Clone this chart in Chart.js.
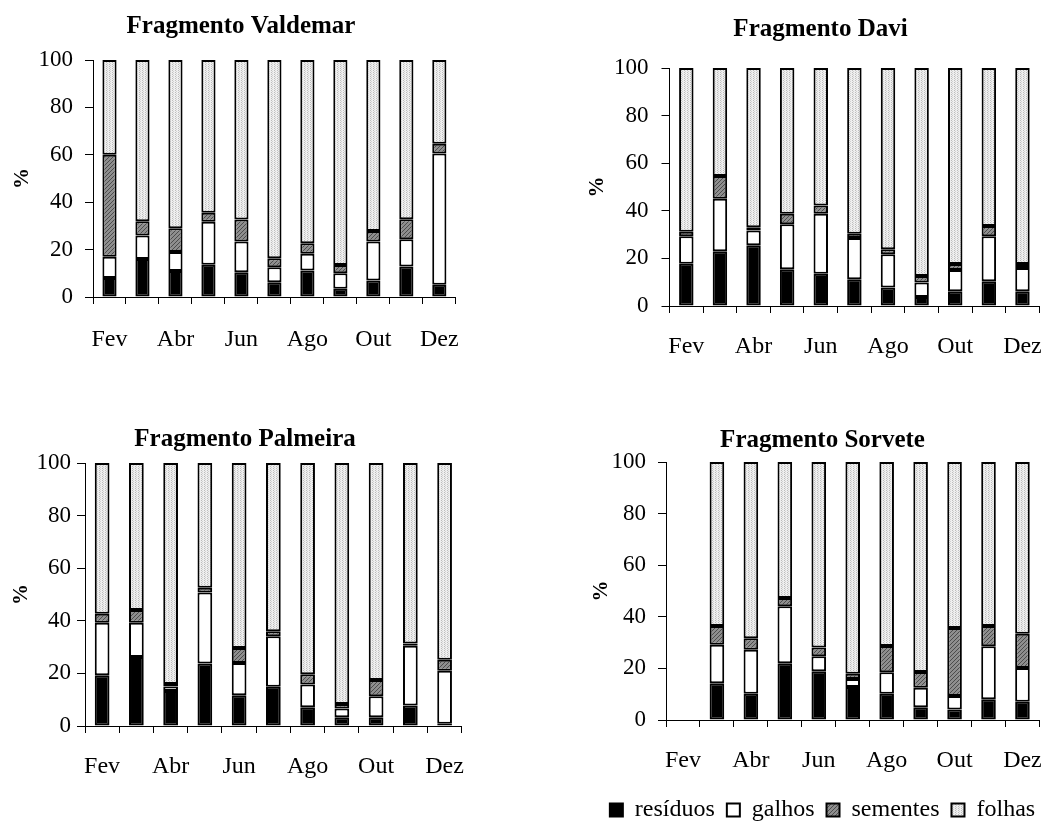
<!DOCTYPE html>
<html lang="pt-BR">
<head>
    <meta charset="UTF-8">
    <title>Fragmentos - composição da serapilheira</title>
    <script src="https://cdn.jsdelivr.net/npm/chart.js"></script>
    <style>
        body {
            margin: 0;
            width: 1061px;
            height: 821px;
            overflow: hidden;
            background: #fff;
            position: relative;
        }
        canvas {
            position: absolute;
        }
    </style>
</head>
<body>
    <canvas id="valdemar" width="470" height="370" style="left:10px; top:0px;"></canvas>
    <canvas id="davi" width="476" height="370" style="left:585px; top:0px;"></canvas>
    <canvas id="palmeira" width="474" height="380" style="left:9px; top:410px;"></canvas>
    <canvas id="sorvete" width="472" height="422" style="left:589px; top:410px;"></canvas>

    <script>
        // meses (Fev a Dez)
        const meses = ['Fev', 'Mar', 'Abr', 'Mai', 'Jun', 'Jul', 'Ago', 'Set', 'Out', 'Nov', 'Dez'];
        const categorias = ['resíduos', 'galhos', 'sementes', 'folhas'];
        const yTicks = [0, 20, 40, 60, 80, 100];

        // Fragmento Valdemar (%)
        const valdemarResiduos = [8, 16, 11, 13.6, 10.4, 6.2, 11.2, 3.5, 7, 12.9, 5.2];
        const valdemarGalhos   = [9, 10, 8, 18.1, 13, 6.4, 7, 6.5, 16.4, 11.5, 55.4];
        const valdemarSementes = [43, 6, 10, 3.8, 9.3, 3.7, 4.5, 3.5, 4.5, 8.4, 4.1];
        const valdemarFolhas   = [40, 68, 71, 64.5, 67.3, 83.7, 77.3, 86.5, 72.1, 67.2, 35.3];

        // Fragmento Davi (%)
        const daviResiduos = [17.8, 23, 25.5, 15.4, 13.6, 11.2, 7.8, 3.8, 6.2, 10.4, 6.2];
        const daviGalhos   = [11.5, 22.1, 6.2, 18.9, 25.2, 17.4, 13.9, 6.1, 8.9, 18.9, 9.8];
        const daviSementes = [1.9, 9.5, 1.4, 4.5, 3.4, 1.8, 2.1, 2.7, 2.5, 4.3, 1.6];
        const daviFolhas   = [68.8, 45.4, 66.9, 61.2, 57.8, 69.6, 76.2, 87.4, 82.4, 66.4, 82.4];

        // Fragmento Palmeira (%)
        const palmeiraResiduos = [19.3, 26.2, 13.3, 23.8, 11.7, 14.9, 7.1, 3.3, 3.3, 7.8, 0.9];
        const palmeiraGalhos   = [20, 13.1, 1.7, 27, 12.3, 19.2, 8.7, 3.4, 8, 22.7, 20.1];
        const palmeiraSementes = [3.4, 4.8, 1, 1.8, 5.7, 1.9, 3.9, 1.7, 6.2, 0.9, 4.2];
        const palmeiraFolhas   = [57.3, 55.9, 84, 47.4, 70.3, 64, 80.3, 91.6, 82.5, 68.6, 74.8];

        // Fragmento Sorvete (%) - sem coleta em Fev
        const sorveteResiduos = [null, 14.2, 10.2, 22, 18.9, 12.8, 10.2, 4.9, 4.1, 8, 7.1];
        const sorveteGalhos   = [null, 15, 17, 22.1, 5.8, 3.1, 8.3, 7.6, 5.2, 20.6, 13.1];
        const sorveteSementes = [null, 7.2, 4.5, 3.2, 3.4, 2, 10.2, 6.1, 26.4, 7.8, 13.2];
        const sorveteFolhas   = [null, 63.6, 68.3, 52.7, 71.9, 82.1, 71.3, 81.4, 64.3, 63.6, 66.6];

        const fonte = "'Liberation Serif', 'Times New Roman', serif";

        // padrões de preenchimento
        function padraoHachura() {
            const c = document.createElement('canvas');
            c.width = 4; c.height = 4;
            const g = c.getContext('2d');
            g.fillStyle = '#8e8e8e';
            g.fillRect(0, 0, 4, 4);
            g.fillStyle = '#4c4c4c';
            for (let i = 0; i < 4; i++) {
                g.fillRect(i, 3 - i, 1, 1);
            }
            return g.createPattern(c, 'repeat');
        }

        function padraoPontos() {
            const c = document.createElement('canvas');
            c.width = 3; c.height = 2;
            const g = c.getContext('2d');
            g.fillStyle = '#efefef';
            g.fillRect(0, 0, 3, 2);
            g.fillStyle = '#bdbdbd';
            g.fillRect(0, 0, 1, 1);
            g.fillStyle = '#d2d2d2';
            g.fillRect(1, 1, 1, 1);
            return g.createPattern(c, 'repeat');
        }

        const cores = ['#000000', '#ffffff', padraoHachura(), padraoPontos()];

        function criarGrafico(id, titulo, series, cfg) {
            const datasets = series.map((valores, i) => ({
                label: categorias[i],
                data: valores,
                backgroundColor: cores[i],
                borderColor: '#000',
                borderWidth: 2,
                borderSkipped: false,
                barPercentage: 0.43,
                categoryPercentage: 1
            }));

            return new Chart(document.getElementById(id), {
                type: 'bar',
                data: { labels: meses, datasets: datasets },
                options: {
                    responsive: false,
                    animation: false,
                    devicePixelRatio: 1,
                    layout: { padding: { left: 0, right: cfg.padRight, top: 0, bottom: 0 } },
                    plugins: {
                        tooltip: { enabled: false },
                        title: {
                            display: true,
                            text: titulo,
                            color: '#000',
                            font: { family: fonte, size: 25, weight: 'bold' },
                            padding: { top: cfg.titleTop, bottom: cfg.titleBottom }
                        },
                        legend: {
                            display: !!cfg.legend,
                            position: 'bottom',
                            labels: {
                                color: '#000',
                                font: { family: fonte, size: 24 },
                                boxWidth: 13,
                                boxHeight: 13,
                                padding: 12
                            }
                        }
                    },
                    scales: {
                        x: {
                            stacked: true,
                            offset: true,
                            border: { display: true, color: '#000', width: 1 },
                            grid: {
                                offset: true,
                                drawOnChartArea: false,
                                drawTicks: true,
                                tickLength: 7,
                                tickColor: '#000',
                                tickWidth: 1
                            },
                            ticks: {
                                autoSkip: false,
                                maxRotation: 0,
                                color: '#000',
                                padding: cfg.xPad,
                                font: { family: fonte, size: 24 },
                                callback: (v, i) => (i % 2 === 0 ? meses[i] : '')
                            },
                            afterFit: (s) => { s.height = cfg.xHeight; }
                        },
                        y: {
                            stacked: true,
                            min: 0,
                            max: 100,
                            border: { display: true, color: '#000', width: 1 },
                            grid: {
                                drawOnChartArea: false,
                                drawTicks: true,
                                tickLength: 8,
                                tickColor: '#000',
                                tickWidth: 1
                            },
                            afterBuildTicks: (s) => { s.ticks = yTicks.map(v => ({ value: v })); },
                            ticks: {
                                color: '#000',
                                padding: cfg.yPad,
                                font: { family: fonte, size: 23 }
                            },
                            title: {
                                display: true,
                                text: '%',
                                color: '#000',
                                padding: 0,
                                font: { family: fonte, size: 21, weight: 'bold' }
                            },
                            afterFit: (s) => { s.width = cfg.yWidth; }
                        }
                    }
                }
            });
        }

        criarGrafico('valdemar', 'Fragmento Valdemar',
            [valdemarResiduos, valdemarGalhos, valdemarSementes, valdemarFolhas],
            { padRight: 8, titleTop: 12, titleBottom: 18, xHeight: 73, xPad: 21, yPad: 12, yWidth: 83 });

        criarGrafico('davi', 'Fragmento Davi',
            [daviResiduos, daviGalhos, daviSementes, daviFolhas],
            { padRight: 5, titleTop: 15, titleBottom: 23, xHeight: 64, xPad: 19, yPad: 13, yWidth: 84.5 });

        criarGrafico('palmeira', 'Fragmento Palmeira',
            [palmeiraResiduos, palmeiraGalhos, palmeiraSementes, palmeiraFolhas],
            { padRight: 2, titleTop: 15, titleBottom: 8, xHeight: 64, xPad: 19, yPad: 6, yWidth: 76 });

        criarGrafico('sorvete', 'Fragmento Sorvete',
            [sorveteResiduos, sorveteGalhos, sorveteSementes, sorveteFolhas],
            { padRight: 5, titleTop: 16, titleBottom: 6, xHeight: 66, xPad: 19, yPad: 12, yWidth: 77, legend: true });
    </script>
</body>
</html>
